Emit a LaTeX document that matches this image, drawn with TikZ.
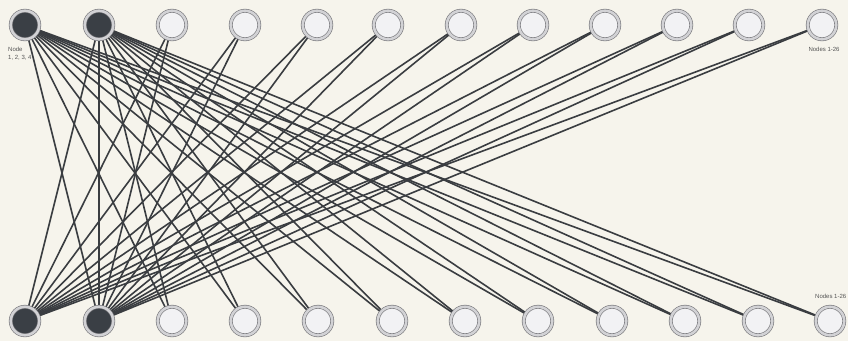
\documentclass[tikz,border=0pt]{standalone}
\usepackage{fontspec}
\setmainfont{Liberation Sans}
\usetikzlibrary{backgrounds}
\definecolor{paper}{RGB}{246,244,236}
\definecolor{linkgrey}{RGB}{58,61,65}
\definecolor{hubfill}{RGB}{58,63,69}
\definecolor{leaffill}{RGB}{242,242,244}
\definecolor{ringedge}{RGB}{118,118,122}
\definecolor{ringband}{RGB}{210,210,213}
\definecolor{notegrey}{RGB}{85,85,85}
\tikzset{
  ringnode/.style={circle, minimum size=28.5pt, inner sep=0pt, draw=ringedge,
    double=ringband, double distance=2.6pt, line width=0.6pt},
  hubnode/.style={ringnode, fill=hubfill},
  leafnode/.style={ringnode, fill=leaffill},
  linkline/.style={draw=linkgrey, line width=1.6pt},
  notelabel/.style={font=\fontsize{6}{7.5}\selectfont, text=notegrey,
    align=left, inner sep=0pt},
}

\begin{document}
\begin{tikzpicture}[x=1pt, y=-1pt]
  \useasboundingbox (0,0) rectangle (848,341);
  % top row
  \foreach \x [count=\i] in {25,99,172,245,317,388,461,533,605,677,749,822}{
    \ifnum\i<3 \def\kind{hubnode}\else\def\kind{leafnode}\fi
    \node[\kind] (t\i) at (\x,25) {};
  }
  % bottom row
  \foreach \x [count=\i] in {25,99,172,245,318,392,465,538,612,685,758,830}{
    \ifnum\i<3 \def\kind{hubnode}\else\def\kind{leafnode}\fi
    \node[\kind] (b\i) at (\x,321) {};
  }
  \node[notelabel, anchor=north west] (hubnote) at (8,47) {Node\\1, 2, 3, 4};
  \node[notelabel, anchor=north] (topnote) at (824,47) {Nodes 1-26};
  \node[notelabel, anchor=south west] (botnote) at (815,299) {Nodes 1-26};
  \begin{scope}[on background layer]
    \fill[paper] (0,0) rectangle (848,341);
    \foreach \j in {3,...,12}{
      \draw[linkline] (t1) -- (b\j);
      \draw[linkline] (t2) -- (b\j);
      \draw[linkline] (b1) -- (t\j);
      \draw[linkline] (b2) -- (t\j);
    }
    \draw[linkline] (t1) -- (b2) (t2) -- (b1) (t2) -- (b2);
  \end{scope}
\end{tikzpicture}
\end{document}
